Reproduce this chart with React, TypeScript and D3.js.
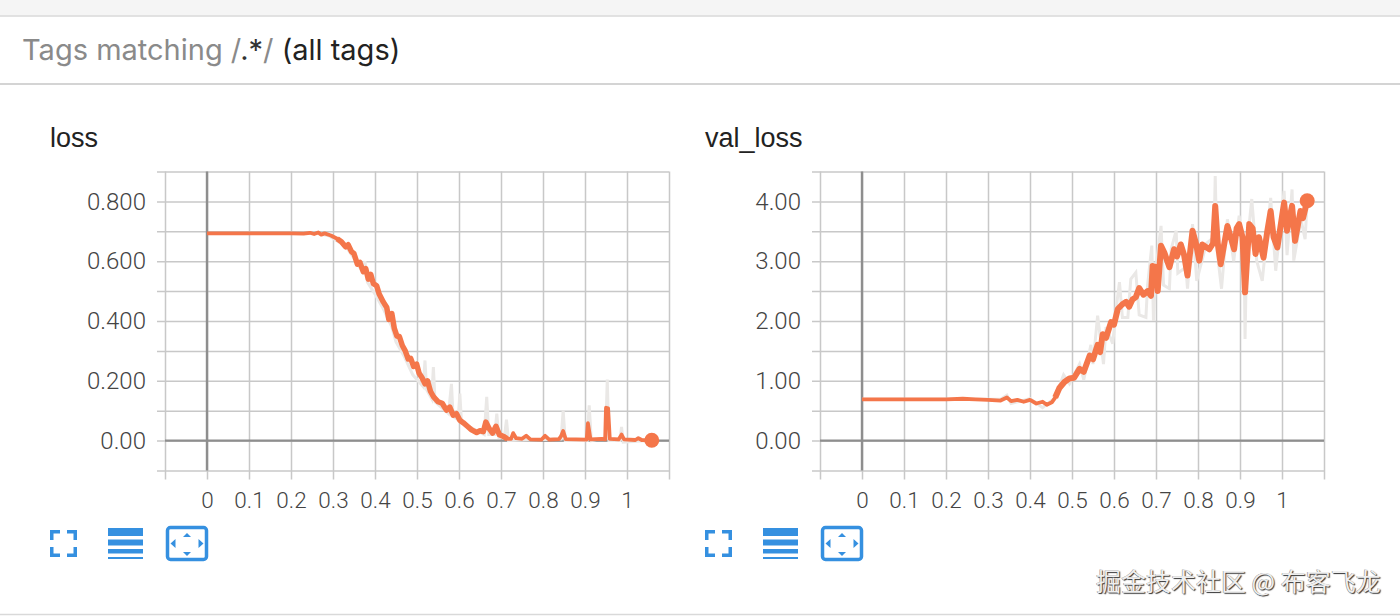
import { useRef, useEffect } from "react";
import * as d3 from "d3";

type Pt = [number, number];

const xTicks = [-0.1, 0, 0.1, 0.2, 0.3, 0.4, 0.5, 0.6, 0.7, 0.8, 0.9, 1, 1.1];
const xLabels = [0, 0.1, 0.2, 0.3, 0.4, 0.5, 0.6, 0.7, 0.8, 0.9, 1];
const lossTicks = [-0.1, 0, 0.1, 0.2, 0.3, 0.4, 0.5, 0.6, 0.7, 0.8, 0.9];
const lossLabels = [0, 0.2, 0.4, 0.6, 0.8];
const valTicks = [-0.5, 0, 0.5, 1, 1.5, 2, 2.5, 3, 3.5, 4, 4.5];
const valLabels = [0, 1, 2, 3, 4];

const lossSmoothed: Pt[] = [
  [0, 0.693], [0.1, 0.693], [0.2, 0.693], [0.23, 0.692], [0.245, 0.695], [0.255, 0.691], [0.265, 0.696],
  [0.272, 0.689], [0.28, 0.693], [0.295, 0.686], [0.31, 0.675], [0.32, 0.665], [0.33, 0.648], [0.336, 0.655],
  [0.344, 0.632], [0.35, 0.625], [0.358, 0.59], [0.364, 0.596], [0.372, 0.565], [0.378, 0.575], [0.384, 0.54],
  [0.39, 0.556], [0.396, 0.525], [0.404, 0.518], [0.41, 0.49], [0.42, 0.463], [0.428, 0.445], [0.433, 0.405],
  [0.44, 0.425], [0.446, 0.375], [0.452, 0.35], [0.458, 0.348], [0.465, 0.318], [0.472, 0.3], [0.479, 0.273],
  [0.485, 0.275], [0.492, 0.248], [0.499, 0.256], [0.505, 0.225], [0.512, 0.21], [0.519, 0.19], [0.525, 0.2],
  [0.532, 0.165], [0.54, 0.145], [0.55, 0.13], [0.56, 0.125], [0.57, 0.102], [0.578, 0.112], [0.586, 0.085],
  [0.594, 0.09], [0.602, 0.068], [0.61, 0.06], [0.62, 0.048], [0.63, 0.036], [0.642, 0.027], [0.65, 0.033],
  [0.658, 0.03], [0.664, 0.062], [0.672, 0.04], [0.68, 0.025], [0.688, 0.048], [0.696, 0.02], [0.706, 0.014],
  [0.715, 0.006], [0.724, 0.006], [0.729, 0.025], [0.736, 0.008], [0.75, 0.006], [0.76, 0.016], [0.77, 0.004],
  [0.796, 0.003], [0.805, 0.016], [0.815, 0.003], [0.838, 0.005], [0.843, 0.015], [0.848, 0.032], [0.854, 0.005],
  [0.904, 0.003], [0.907, 0.058], [0.913, 0.004], [0.94, 0.006], [0.948, 0.004], [0.95, 0.11], [0.955, 0.108],
  [0.959, 0.006], [0.98, 0.004], [0.987, 0.02], [0.993, 0.004], [1.02, 0.002], [1.027, 0.008], [1.035, 0.002],
  [1.059, 0.001],
];

const lossRaw: Pt[] = [
  [0, 0.693], [0.26, 0.693], [0.29, 0.685], [0.33, 0.65], [0.35, 0.61], [0.37, 0.565], [0.376, 0.6], [0.382, 0.53],
  [0.4, 0.49], [0.42, 0.44], [0.44, 0.38], [0.45, 0.33], [0.47, 0.28], [0.49, 0.22], [0.515, 0.18], [0.519, 0.268],
  [0.523, 0.17], [0.535, 0.14], [0.539, 0.246], [0.543, 0.13], [0.575, 0.09], [0.582, 0.19], [0.586, 0.08],
  [0.598, 0.07], [0.602, 0.157], [0.606, 0.06], [0.66, 0.02], [0.666, 0.146], [0.671, 0.02], [0.685, 0.02],
  [0.69, 0.09], [0.695, 0.01], [0.708, 0.01], [0.713, 0.07], [0.718, 0], [0.843, 0.005], [0.848, 0.1], [0.853, 0],
  [0.905, 0], [0.91, 0.118], [0.915, 0], [0.949, 0.01], [0.953, 0.204], [0.957, 0], [0.983, 0], [0.987, 0.046],
  [0.991, -0.005], [1.059, 0.001],
];

const valSmoothed: Pt[] = [
  [0, 0.69], [0.1, 0.69], [0.2, 0.69], [0.24, 0.7], [0.27, 0.69], [0.3, 0.68], [0.33, 0.67], [0.345, 0.72],
  [0.355, 0.66], [0.37, 0.68], [0.385, 0.65], [0.4, 0.68], [0.415, 0.62], [0.43, 0.65], [0.44, 0.6], [0.452, 0.64],
  [0.46, 0.72], [0.47, 0.88], [0.482, 0.98], [0.494, 1.04], [0.505, 1.05], [0.518, 1.2], [0.528, 1.15], [0.542, 1.42],
  [0.55, 1.36], [0.561, 1.6], [0.567, 1.48], [0.573, 1.78], [0.581, 1.72], [0.593, 1.98], [0.6, 1.94], [0.609, 2.2],
  [0.62, 2.28], [0.629, 2.32], [0.636, 2.24], [0.644, 2.36], [0.652, 2.4], [0.66, 2.55], [0.67, 2.44], [0.68, 2.5],
  [0.688, 2.42], [0.692, 2.92], [0.7, 2.9], [0.704, 2.5], [0.712, 3.26], [0.72, 3.14], [0.732, 2.9], [0.743, 3.2],
  [0.75, 3.08], [0.759, 3.28], [0.767, 3.1], [0.775, 2.76], [0.787, 3.51], [0.795, 3.3], [0.803, 3.01], [0.81, 3.28],
  [0.827, 3.2], [0.836, 3.3], [0.841, 3.925], [0.847, 3.3], [0.854, 2.95], [0.87, 3.59], [0.878, 3.4], [0.886, 3.2],
  [0.892, 3.55], [0.898, 3.62], [0.906, 3.4], [0.912, 2.48], [0.922, 3.62], [0.93, 3.55], [0.937, 3.12], [0.945, 3.4],
  [0.956, 3.06], [0.965, 3.5], [0.973, 3.84], [0.98, 3.4], [0.989, 3.23], [1.005, 3.98], [1.012, 3.51], [1.024, 3.925],
  [1.031, 3.34], [1.044, 3.84], [1.05, 3.72], [1.06, 4.01],
];

const valRaw: Pt[] = [
  [0, 0.69], [0.33, 0.69], [0.345, 0.76], [0.355, 0.62], [0.4, 0.7], [0.43, 0.55], [0.46, 0.72], [0.48, 1.1],
  [0.494, 0.95], [0.518, 1.28], [0.528, 1.02], [0.545, 1.6], [0.55, 1.28], [0.561, 2.09], [0.575, 1.28], [0.581, 1.9],
  [0.597, 1.62], [0.605, 2.2], [0.613, 2.65], [0.62, 2.06], [0.633, 2.06], [0.64, 2.7], [0.652, 2.81], [0.66, 2.1],
  [0.676, 2.06], [0.68, 2.6], [0.69, 3.26], [0.694, 2], [0.7, 2.9], [0.712, 3.59], [0.718, 2.6], [0.732, 2.54],
  [0.736, 3.2], [0.748, 3.51], [0.752, 2.8], [0.771, 2.9], [0.775, 2.54], [0.787, 3.62], [0.797, 2.67], [0.82, 3.3],
  [0.838, 3.4], [0.841, 4.425], [0.845, 3.2], [0.856, 2.54], [0.87, 3.7], [0.885, 3.0], [0.898, 3.76], [0.91, 3.1],
  [0.912, 1.7], [0.916, 3.2], [0.928, 4.04], [0.94, 3.0], [0.953, 2.67], [0.973, 4.06], [0.985, 2.84], [1.005, 4.175],
  [1.012, 3.1], [1.024, 4.2], [1.028, 3.01], [1.045, 3.7], [1.055, 3.37], [1.06, 4.01],
];

const ACCENT = "#f4764a";
const BLUE = "#3590e0";
const FONT = "'Liberation Sans', Arial, sans-serif";
const TICK_FONT = "Roboto, 'Liberation Sans', sans-serif";

interface ChartProps {
  title: string;
  left: number;
  yTicks: number[];
  yLabels: number[];
  yDomain: [number, number];
  yFormat: (v: number) => string;
  smoothed: Pt[];
  raw: Pt[];
  noisy: [number, number];
  noisyWidth: number;
}

const Chart = ({ title, left, yTicks, yLabels, yDomain, yFormat, smoothed, raw, noisy, noisyWidth }: ChartProps) => {
  const ref = useRef<SVGGElement>(null);
  const width = 504;
  const height = 299;

  useEffect(() => {
    const g = d3.select(ref.current);
    g.selectAll("*").remove();

    const x = d3.scaleLinear().domain([-0.1, 1.1]).range([0, width]);
    const y = d3.scaleLinear().domain(yDomain).range([height, 0]);

    const xAxis = g.append("g")
      .attr("transform", `translate(0, ${height})`)
      .call(d3.axisBottom(x).tickValues(xTicks).tickSize(-height - 9).tickSizeOuter(0)
        .tickFormat((d) => (xLabels.includes(d as number) ? String(d) : "")));
    xAxis.selectAll("line").attr("transform", "translate(0, 9)");
    xAxis.selectAll("text").attr("y", 21.5).attr("dy", "0.71em");

    const yAxis = g.append("g")
      .call(d3.axisLeft(y).tickValues(yTicks).tickSize(-width - 8).tickSizeOuter(0)
        .tickFormat((d) => (yLabels.includes(d as number) ? yFormat(d as number) : "")));
    yAxis.selectAll("line").attr("transform", "translate(-8, 0)");
    yAxis.selectAll("text").attr("x", -19);

    g.selectAll(".domain").remove();
    g.selectAll(".tick line")
      .attr("stroke", "#c8c8c8")
      .attr("stroke-width", 1.5);
    g.selectAll(".tick text")
      .attr("fill", "#444")
      .attr("font-family", TICK_FONT)
      .attr("font-weight", 300);
    xAxis.selectAll("text").attr("font-size", 22.5);
    yAxis.selectAll("text").attr("font-size", 24);

    // Zero axes are darker than the grid
    g.append("line").attr("x1", x(0)).attr("x2", x(0)).attr("y1", 0).attr("y2", height)
      .attr("stroke", "#8e8e8e").attr("stroke-width", 2.4);
    g.append("line").attr("x1", 0).attr("x2", width).attr("y1", y(0)).attr("y2", y(0))
      .attr("stroke", "#8e8e8e").attr("stroke-width", 2.4);

    const line = d3.line<Pt>().x((d) => x(d[0])).y((d) => y(d[1]));

    g.append("path").attr("d", line(raw)).attr("fill", "none")
      .attr("stroke", "#eae8e6").attr("stroke-width", 3);
    g.append("path").attr("d", line(smoothed)).attr("fill", "none")
      .attr("stroke", ACCENT).attr("stroke-width", 3.8).attr("stroke-linejoin", "round");
    // the noisy stretch of the run reads as a thicker band
    g.append("path").attr("d", line(smoothed.filter((d) => d[0] >= noisy[0] && d[0] <= noisy[1]))).attr("fill", "none")
      .attr("stroke", ACCENT).attr("stroke-width", noisyWidth).attr("stroke-linejoin", "round");

    const last = smoothed[smoothed.length - 1];
    g.append("circle").attr("cx", x(last[0])).attr("cy", y(last[1])).attr("r", 7.5).attr("fill", ACCENT);
  }, []);

  return (
    <>
      <text x={left - 115} y={147} fontSize={27} fontFamily={FONT} fill="#222">{title}</text>
      <g ref={ref} transform={`translate(${left}, 171.5)`} />
      <g transform={`translate(${left - 165}, 0)`} fill={BLUE} stroke="none">
        <path d="M50 530h10v3.5h-6.500v6.500h-3.500z M67 530h10v10h-3.500v-6.500h-6.500z M50 547h3.500v6.500h6.500v3.500h-10z M73.500 547h3.500v10h-10v-3.500h6.500z" />
        <rect x={108} y={528} width={35} height={8} />
        <rect x={108} y={539.500} width={35} height={6} />
        <rect x={108} y={549} width={35} height={4.500} />
        <rect x={108} y={557} width={35} height={2} />
        <rect x={167.500} y={527.500} width={39} height={32} rx={3} fill="none" stroke={BLUE} strokeWidth={3.500} />
        <path d="M187 533l4 4h-8z M187 556l-4 -4h8z M170.500 543.500l5 -4.500v9z M203.500 543.500l-5 -4.500v9z" />
      </g>
    </>
  );
};

const App = () => (
  <svg width={1400} height={616} style={{ position: "absolute", left: 0, top: 0, display: "block", background: "#fff" }}>
    <rect x={0} y={0} width={1400} height={15.500} fill="#f5f5f5" />
    <line x1={0} x2={1400} y1={16} y2={16} stroke="#d9d9d9" strokeWidth={1.500} />
    <line x1={0} x2={1400} y1={84} y2={84} stroke="#d4d4d4" strokeWidth={2} />
    <line x1={0} x2={1400} y1={614.500} y2={614.500} stroke="#d9d9d9" strokeWidth={1.500} />
    <text x={22} y={60} fontSize={29} fontFamily="Inter, 'Liberation Sans', sans-serif">
      <tspan fill="#8a8a8a">Tags matching /</tspan>
      <tspan fill="#333">.*</tspan>
      <tspan fill="#8a8a8a">/ </tspan>
      <tspan fill="#222">(all tags)</tspan>
    </text>
    <Chart title="loss" left={165} yTicks={lossTicks} yLabels={lossLabels} yDomain={[-0.1, 0.9]}
      yFormat={(v) => (v === 0 ? "0.00" : d3.format(".3f")(v))} smoothed={lossSmoothed} raw={lossRaw}
      noisy={[0.3, 0.72]} noisyWidth={5.5} />
    <Chart title="val_loss" left={820} yTicks={valTicks} yLabels={valLabels} yDomain={[-0.5, 4.5]}
      yFormat={d3.format(".2f")} smoothed={valSmoothed} raw={valRaw}
      noisy={[0.46, 1.06]} noisyWidth={6} />
    <text x={1096} y={591} fontSize={25} fontFamily="'Noto Sans CJK SC', sans-serif" fill="#efefef"
      style={{ textShadow: "1px 1px 1px #333, -0.5px -0.5px 0.5px #888" }}>掘金技术社区 @ 布客飞龙</text>
  </svg>
);

export default App;
